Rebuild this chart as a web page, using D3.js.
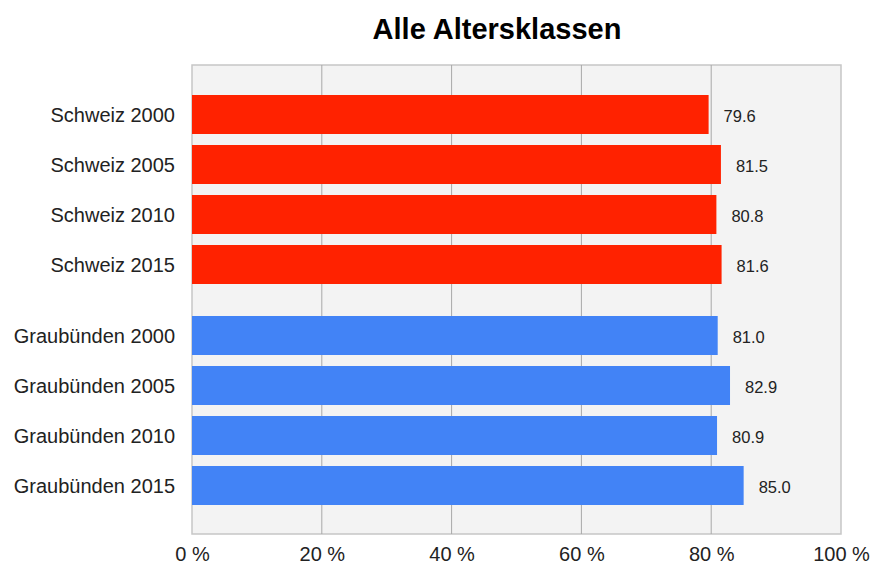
<!DOCTYPE html>
<html lang="de">
<head>
<meta charset="utf-8">
<script src="https://d3js.org/d3.v7.min.js"></script>
<title>Alle Altersklassen</title>
<style>
  body { margin: 0; background: #fff; }
  text { font-family: "Liberation Sans", Arial, sans-serif; }
</style>
</head>
<body>
<div id="chart"></div>
<script>
// data
const categories = ["Schweiz 2000", "Schweiz 2005", "Schweiz 2010", "Schweiz 2015",
                    "Graubünden 2000", "Graubünden 2005", "Graubünden 2010", "Graubünden 2015"];
const groups = ["Schweiz", "Schweiz", "Schweiz", "Schweiz",
                "Graubünden", "Graubünden", "Graubünden", "Graubünden"];
const values = [79.6, 81.5, 80.8, 81.6, 81.0, 82.9, 80.9, 85.0];
const ticks = [0, 20, 40, 60, 80, 100];

const data = categories.map((c, i) => ({ name: c, group: groups[i], value: values[i] }));

const margin = {top: 65, right: 30, bottom: 33, left: 192},
    W = 871, H = 567,
    width = W - margin.left - margin.right,
    height = H - margin.top - margin.bottom;

const svg = d3.select("#chart").append("svg")
    .attr("width", W)
    .attr("height", H);

// title
svg.append("text")
  .attr("x", 497)
  .attr("y", 39)
  .attr("text-anchor", "middle")
  .style("font-size", "29px")
  .style("font-weight", "bold")
  .style("fill", "#000")
  .text("Alle Altersklassen");

const g = svg.append("g")
    .attr("transform", `translate(${margin.left},${margin.top})`);

const x = d3.scaleLinear().domain([0, 100]).range([0, width]);

// bands, second group pushed down a bit
const groupGap = 21;
const y = d3.scaleBand()
  .domain(categories)
  .range([30, 30 + 50 * (categories.length - 0.22)])
  .paddingInner(0.22)
  .paddingOuter(0);
const yPos = d => y(d.name) + (d.group === "Graubünden" ? groupGap : 0);

const color = d3.scaleOrdinal()
  .domain(["Schweiz", "Graubünden"])
  .range(["#ff2200", "#4283f6"]);

// plot background
g.append("rect")
  .attr("width", width)
  .attr("height", height)
  .attr("fill", "#f3f3f3")
  .attr("stroke", "#c6c6c6")
  .attr("stroke-width", 1.5);

// grid
g.selectAll(".grid")
  .data(ticks.filter(t => t > 0 && t < 100))
  .enter().append("line")
    .attr("x1", d => x(d)).attr("x2", d => x(d))
    .attr("y1", 0).attr("y2", height)
    .attr("stroke", "#a8a8a8")
    .attr("stroke-width", 1);

// x axis
const xAxis = g.append("g")
  .attr("transform", `translate(0,${height})`)
  .call(d3.axisBottom(x).tickValues(ticks).tickSize(0).tickPadding(12)
        .tickFormat(d => d + " %"));
xAxis.select(".domain").remove();
xAxis.selectAll("text")
  .style("font-size", "20px")
  .style("fill", "#222")
  .attr("dy", "0.75em");

// bars
g.selectAll(".bar")
  .data(data)
  .enter().append("rect")
    .attr("x", 0)
    .attr("y", yPos)
    .attr("width", d => x(d.value))
    .attr("height", y.bandwidth())
    .attr("fill", d => color(d.group));

// category labels
g.selectAll(".cat")
  .data(data)
  .enter().append("text")
    .attr("x", -17)
    .attr("y", d => yPos(d) + y.bandwidth() / 2)
    .attr("dy", "0.35em")
    .attr("text-anchor", "end")
    .style("font-size", "20px")
    .style("fill", "#222")
    .text(d => d.name);

// value labels
g.selectAll(".val")
  .data(data)
  .enter().append("text")
    .attr("x", d => x(d.value) + 15)
    .attr("y", d => yPos(d) + y.bandwidth() / 2)
    .attr("dy", "0.45em")
    .style("font-size", "16.5px")
    .style("fill", "#222")
    .text(d => d.value.toFixed(1));
</script>
</body>
</html>
